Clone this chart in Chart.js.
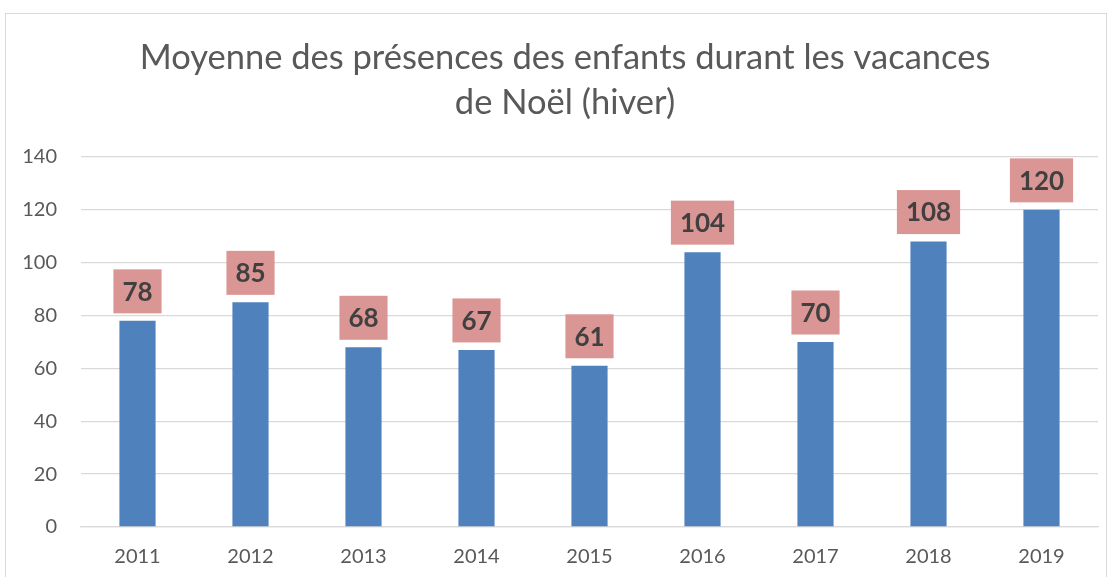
<!DOCTYPE html>
<html>
<head>
<meta charset="utf-8">
<script src="https://cdn.jsdelivr.net/npm/chart.js@4"></script>
<style>
    html, body { margin: 0; padding: 0; background: #fff; }
    #frame {
        position: absolute;
        left: 5px;
        top: 13px;
        width: 1102px;
        height: 580px;
        border: 1px solid #d9d9d9;
        box-sizing: border-box;
    }
    #wrap { position: absolute; left: 0; top: 0; width: 1113px; height: 577px; }
</style>
</head>
<body>
<div id="frame"></div>
<div id="wrap"><canvas id="presenceChart" width="1113" height="577"></canvas></div>
<script>
const years = ["2011", "2012", "2013", "2014", "2015", "2016", "2017", "2018", "2019"]
const presences = [78, 85, 68, 67, 61, 104, 70, 108, 120]
const titleLines = [
    "Moyenne des présences des enfants durant les vacances",
    "de Noël (hiver)"
]

const FONT = "Lato, 'Open Sans', sans-serif"

// titre centre sur le cadre (pas sur la zone du graphique)
const frameTitle = {
    id: "frameTitle",
    afterDraw(chart) {
        const ctx = chart.ctx
        ctx.save()
        ctx.font = "34.5px " + FONT
        ctx.fillStyle = "#595959"
        ctx.textAlign = "center"
        ctx.textBaseline = "middle"
        titleLines.forEach((line, i) => {
            ctx.fillText(line, 565, 58 + i * 45)
        })
        ctx.restore()
    }
}

// boites roses au-dessus des barres
const boxLabels = {
    id: "boxLabels",
    afterDatasetsDraw(chart) {
        const ctx = chart.ctx
        const meta = chart.getDatasetMeta(0)
        ctx.save()
        ctx.font = "bold 26px " + FONT
        ctx.textAlign = "center"
        ctx.textBaseline = "middle"
        meta.data.forEach((bar, i) => {
            const txt = String(presences[i])
            const w = ctx.measureText(txt).width + 18
            const h = 44
            const bottom = bar.y - 7.5
            ctx.fillStyle = "#DA9694"
            ctx.fillRect(bar.x - w / 2, bottom - h, w, h)
            ctx.fillStyle = "#404040"
            ctx.fillText(txt, bar.x, bottom - h / 2 + 1)
        })
        ctx.restore()
    }
}

new Chart(
    document.getElementById("presenceChart"),
    {
        type: "bar",

        data: {
            labels: years,
            datasets: [{
                data: presences,
                backgroundColor: "#4F81BD",
                categoryPercentage: 1,
                barPercentage: 0.32
            }]
        },

        options: {
            responsive: false,
            animation: false,
            layout: {
                padding: { left: 0, right: 15, top: 157, bottom: 0 }
            },
            plugins: {
                legend: { display: false },
                tooltip: { enabled: false },
                title: { display: false }
            },
            scales: {
                x: {
                    afterFit(scale) { scale.height = 50 },
                    grid: { display: false, drawTicks: false },
                    border: { display: true, color: "#d9d9d9", width: 1.3 },
                    ticks: {
                        color: "#595959",
                        font: { family: FONT, size: 20 },
                        padding: 18
                    }
                },
                y: {
                    min: 0,
                    max: 140,
                    afterFit(scale) { scale.width = 81 },
                    border: { display: false },
                    grid: {
                        color: "#d9d9d9",
                        lineWidth: 1.3,
                        drawTicks: false
                    },
                    ticks: {
                        stepSize: 20,
                        color: "#595959",
                        font: { family: FONT, size: 20 },
                        padding: 24
                    }
                }
            }
        },

        plugins: [frameTitle, boxLabels]
    }
)
</script>
</body>
</html>
